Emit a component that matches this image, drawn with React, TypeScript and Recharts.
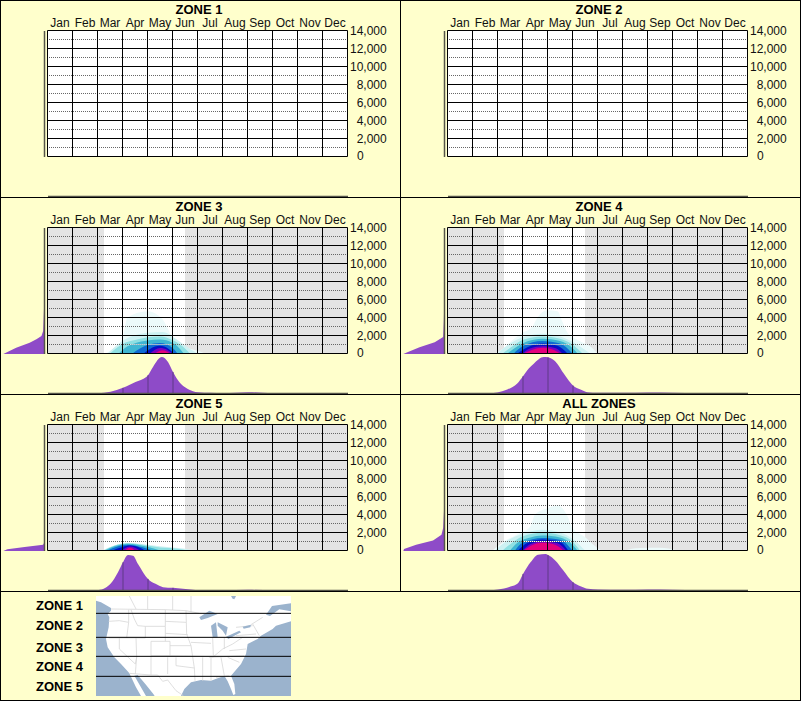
import React from 'react';
import {
  ComposedChart,
  Area,
  XAxis,
  YAxis,
  ReferenceArea,
  ReferenceLine,
} from 'recharts';

const monthNames = ['Jan', 'Feb', 'Mar', 'Apr', 'May', 'Jun', 'Jul', 'Aug', 'Sep', 'Oct', 'Nov', 'Dec'];
const monthCentres = [0.5, 1.5, 2.5, 3.5, 4.5, 5.5, 6.5, 7.5, 8.5, 9.5, 10.5, 11.5];
const monthEdges = [0, 1, 2, 3, 4, 5, 6, 7, 8, 9, 10, 11, 12];
const elevationTicks = [0, 2000, 4000, 6000, 8000, 10000, 12000, 14000];
const dottedLevels = [1000, 3000, 5000, 7000, 9000, 11000, 13000];

// growing season window, in months from Jan 1
const seasonStart = 2.26;
const seasonEnd = 5.5;

// heat bands run from the palest to the hottest, each is [month, elevation]
const heatColors = ['#ecfafa', '#cdf1f2', '#8fe0e2', '#3fb6d2', '#0f6ad2', '#0410c4', '#7a00bc', '#e4007c'];

const emptyHeat = [[[0, 0], [12, 0]]];

const zone3Heat = [
  [[2.3, 0], [3, 1600], [3.2, 4000], [4, 4700], [4.6, 3800], [5, 1800], [5.4, 900], [6, 300], [6.3, 0]],
  [[2.4, 0], [3, 1400], [4, 2300], [4.6, 2400], [5.2, 1500], [5.7, 500], [6, 0]],
  [[2.5, 0], [3, 1050], [3.5, 1500], [4, 1800], [4.5, 1900], [5, 1500], [5.4, 800], [5.7, 0]],
  [[2.85, 0], [3.2, 800], [3.5, 1150], [4, 1450], [4.5, 1550], [5, 1200], [5.3, 500], [5.45, 0]],
  [[3.4, 0], [3.7, 550], [4, 950], [4.5, 1180], [5, 650], [5.2, 0]],
  [[3.85, 0], [4.1, 500], [4.5, 850], [4.85, 500], [5.05, 0]],
  [[4.1, 0], [4.5, 600], [4.8, 400], [5, 0]],
  [[4.3, 0], [4.6, 350], [4.9, 0]],
];

const zone4Heat = [
  [[1.9, 0], [2.2, 500], [2.6, 1500], [3, 2300], [3.4, 3000], [3.6, 4000], [4, 4800], [4.4, 4700], [4.6, 3500], [4.8, 2300], [5.2, 1500], [5.7, 800], [6, 0]],
  [[2, 0], [2.5, 1100], [3, 1800], [3.8, 2200], [4.5, 1900], [5, 1300], [5.7, 0]],
  [[2.2, 0], [2.6, 800], [3, 1500], [3.8, 1900], [4.5, 1650], [5, 1000], [5.4, 0]],
  [[2.4, 0], [2.8, 800], [3.2, 1350], [3.8, 1650], [4.5, 1400], [5, 600], [5.2, 0]],
  [[2.65, 0], [3, 800], [3.8, 1400], [4.5, 1100], [5, 0]],
  [[2.8, 0], [3.2, 700], [3.8, 1100], [4.4, 850], [4.8, 0]],
  [[3, 0], [3.3, 550], [3.8, 800], [4.3, 600], [4.6, 0]],
  [[3.05, 0], [3.4, 430], [3.8, 640], [4.2, 450], [4.5, 0]],
];

const zone5Heat = [
  [[2.2, 0], [2.6, 500], [3.2, 850], [4, 650], [5, 320], [5.5, 200], [5.85, 0]],
  [[2.25, 0], [2.7, 550], [3.2, 800], [4, 550], [4.5, 340], [5.2, 200], [5.6, 0]],
  [[2.3, 0], [2.7, 500], [3.2, 760], [4, 420], [4.5, 0]],
  [[2.4, 0], [2.8, 450], [3.2, 650], [3.8, 350], [4.2, 0]],
  [[2.6, 0], [3, 400], [3.3, 550], [3.7, 300], [3.9, 0]],
  [[2.97, 0], [3.3, 440], [3.7, 0]],
  [[3.1, 0], [3.3, 300], [3.5, 0]],
];

const allZonesHeat = [
  [[1.8, 0], [2.2, 900], [2.8, 1800], [3.3, 2600], [3.5, 4000], [4, 4700], [4.4, 5000], [4.8, 3800], [5, 2500], [5.5, 1500], [5.9, 500], [6.2, 0], [7, 0], [7.5, 250], [8.5, 300], [9.2, 0]],
  [[1.9, 0], [2.4, 1100], [3, 1850], [3.8, 2300], [4.5, 2000], [5, 1300], [5.5, 0]],
  [[2.2, 0], [2.6, 900], [3, 1550], [3.8, 1960], [4.5, 1700], [5, 1000], [5.3, 0]],
  [[2.5, 0], [2.8, 850], [3.2, 1350], [3.8, 1670], [4.5, 1450], [5, 650], [5.2, 0]],
  [[2.7, 0], [3, 850], [3.8, 1400], [4.5, 1200], [5, 0]],
  [[2.83, 0], [3.2, 850], [3.8, 1220], [4.5, 950], [4.83, 0]],
  [[3, 0], [3.3, 700], [3.8, 1030], [4.4, 800], [4.74, 0]],
  [[3.06, 0], [3.4, 600], [3.8, 850], [4.3, 650], [4.63, 0]],
];

// marginal of the heat map along the months, [month, density]
const emptyMonths = [[0, 0], [12, 0]];
const zone3Months = [[2, 1], [2.5, 5], [3, 17], [3.5, 35], [3.93, 50], [4, 55], [4.2, 80], [4.55, 110], [4.8, 95], [5, 65], [5.25, 35], [5.5, 18], [5.8, 7], [6, 4], [6.5, 2], [7, 1], [7.5, 2], [8, 4], [8.6, 2], [9, 1], [10, 0]];
const zone4Months = [[1.5, 0], [1.97, 3], [2.37, 12], [2.77, 30], [3, 52], [3.23, 75], [3.43, 90], [3.83, 110], [4, 109], [4.37, 90], [4.63, 60], [4.77, 45], [5, 24], [5.3, 12], [5.57, 4], [6, 2], [7, 2], [8, 3], [9, 2], [10, 0]];
const zone5Months = [[1.5, 0], [2, 1], [2.3, 8], [2.5, 20], [2.8, 55], [3, 85], [3.2, 107], [3.4, 105], [3.6, 80], [4, 35], [4.3, 20], [4.6, 10], [5, 8], [5.4, 5], [6, 1], [7, 0], [8, 2], [9, 1], [10, 0]];
const allZonesMonths = [[1.5, 0], [2, 3], [2.5, 12], [2.8, 22], [3, 50], [3.3, 85], [3.6, 108], [3.9, 110], [4, 107], [4.3, 90], [4.6, 62], [5, 25], [5.3, 13], [5.6, 5], [6, 3], [7, 2], [8, 3], [9, 2], [10, 0]];

// marginal of the heat map along elevation, [elevation, density]
const emptyLevels = [[0, 0], [14000, 0]];
const zone3Levels = [[0, 122], [700, 84], [1260, 44], [1630, 24], [2000, 9], [2550, 4], [4000, 2.5], [5500, 1], [7000, 0]];
const zone4Levels = [[0, 122], [200, 110], [740, 74], [1300, 29], [1900, 4], [3700, 2], [5200, 1], [7000, 0]];
const zone5Levels = [[0, 122], [190, 110], [440, 59], [700, 4], [1000, 0]];
const allZonesLevels = [[0, 122], [220, 120], [700, 84], [1180, 34], [1800, 9], [2550, 4], [4800, 1], [7000, 0]];

const mapLegend = ['ZONE 1', 'ZONE 2', 'ZONE 3', 'ZONE 4', 'ZONE 5'];

const FONT = '"Liberation Sans", Arial, sans-serif';
const BG = '#ffffcc';
const PURPLE = '#8e4bc8';
const BASE_LINE = '#55554a';

const toPoints = (pairs: number[][]) => pairs.map(([month, value]) => ({ month, value }));
const monthTable = monthCentres.map(month => ({ month }));

const MonthTick = (props: any) => {
  const { x, payload } = props;
  return (
    <text x={x} y={27} textAnchor="middle" fontFamily={FONT} fontSize={12} fill="#111">
      {monthNames[monthCentres.indexOf(payload.value)]}
    </text>
  );
};

const ElevationTick = (props: any) => {
  const { y, payload } = props;
  const v = payload.value;
  if (v === 0) {
    return <text x={357} y={y + 3.5} fontFamily={FONT} fontSize={12} fill="#111">0</text>;
  }
  return (
    <text x={386.7} y={y + 4} textAnchor="end" fontFamily={FONT} fontSize={12} fill="#111">
      {v.toLocaleString('en-US')}
    </text>
  );
};

interface PanelProps {
  title: string;
  left: number;
  top: number;
  height: number;
  heat?: number[][][];
  months?: number[][];
  levels?: number[][];
  whiteDots?: number[];
}

const Panel: React.FC<PanelProps> = ({ title, left, top, height, heat = emptyHeat, months = emptyMonths, levels = emptyLevels, whiteDots }) => {
  const plotBottom = height - 40.5;
  const sideData = levels.map(([level, density]) => ({ level, density }));
  const hasData = heat !== emptyHeat;

  return (
    <div style={{ position: 'absolute', left, top, width: 400, height }}>
      <div style={{ position: 'absolute', left: 0, top: 2, width: 398, textAlign: 'center', font: `bold 13px ${FONT}`, color: '#000' }}>
        {title}
      </div>

      {/* heat map with its month and elevation axes */}
      <div style={{ position: 'absolute', left: 0, top: 0 }}>
        <ComposedChart width={400} height={height} data={monthTable} margin={{ top: 29.5, right: 51.5, bottom: 40.5, left: 47.5 }}>
          <XAxis type="number" dataKey="month" orientation="top" domain={[0, 12]} ticks={monthCentres} tick={<MonthTick />} height={1} axisLine={false} tickLine={false} interval={0} allowDataOverflow />
          <YAxis type="number" orientation="right" domain={[0, 14000]} ticks={elevationTicks} tick={<ElevationTick />} width={1} axisLine={false} tickLine={false} interval={0} />
          <ReferenceArea x1={0} x2={12} y1={0} y2={14000} fill="#fff" fillOpacity={1} stroke="none" />
          {hasData && <ReferenceArea x1={0} x2={seasonStart} y1={0} y2={14000} fill="#e4e4e4" fillOpacity={1} stroke="none" />}
          {hasData && <ReferenceArea x1={seasonEnd} x2={12} y1={0} y2={14000} fill="#e4e4e4" fillOpacity={1} stroke="none" />}
          {heat.map((band, i) => (
            <Area
              key={i}
              data={toPoints(band)}
              dataKey="value"
              type="monotone"
              fill={heatColors[heatColors.length - heat.length + i]}
              fillOpacity={1}
              stroke="none"
              isAnimationActive={false}
              dot={false}
              activeDot={false}
            />
          ))}
          {dottedLevels.map(l => (
            <ReferenceLine key={l} y={l} stroke="#666" strokeDasharray="1 1" strokeDashoffset={0.5} />
          ))}
          {whiteDots && (
            <ReferenceLine
              segment={[{ x: whiteDots[0], y: 1000 }, { x: whiteDots[1], y: 1000 }]}
              stroke="#fff"
              strokeDasharray="1 1"
              strokeDashoffset={0.5}
            />
          )}
          {elevationTicks.map(l => (
            <ReferenceLine key={l} y={l} stroke="#000" />
          ))}
          {monthEdges.map(m => (
            <ReferenceLine key={m} x={m} stroke="#000" />
          ))}
        </ComposedChart>
      </div>

      {/* elevation marginal, left of the plot */}
      <div style={{ position: 'absolute', left: 3, top: 30.5 }}>
        <ComposedChart width={43} height={126} layout="vertical" data={sideData} margin={{ top: 0, right: 1.5, bottom: 0, left: 0 }}>
          <XAxis type="number" domain={[0, 123]} reversed hide />
          <YAxis type="number" dataKey="level" orientation="right" domain={[0, 14000]} reversed hide />
          <Area dataKey="density" type="linear" fill={PURPLE} fillOpacity={1} stroke="none" isAnimationActive={false} dot={false} activeDot={false} />
          <ReferenceLine x={0} stroke={BASE_LINE} strokeWidth={1.5} />
        </ComposedChart>
      </div>

      {/* month marginal, under the plot */}
      <div style={{ position: 'absolute', left: 47.5, top: plotBottom + 3.5 }}>
        <ComposedChart width={300} height={37.5} data={toPoints(months)} margin={{ top: 0, right: 0, bottom: 1, left: 0 }}>
          <XAxis type="number" dataKey="month" domain={[0, 12]} hide allowDataOverflow />
          <YAxis type="number" domain={[0, 110]} hide />
          <Area dataKey="value" type="monotone" fill={PURPLE} fillOpacity={1} stroke="none" isAnimationActive={false} dot={false} activeDot={false} />
          {months.filter(([m, v]) => Number.isInteger(m) && v > 5).map(([m, v]) => (
            <ReferenceLine key={m} segment={[{ x: m, y: 0 }, { x: m, y: v }]} stroke="#5e3a86" />
          ))}
          <ReferenceLine y={0} stroke={BASE_LINE} strokeWidth={1.5} />
        </ComposedChart>
      </div>
    </div>
  );
};

const landOutline = '0,6 0,20 15,25 45,42 45,50 35,60 40,70 38,100 30,135 35,160 55,190 75,210 95,232 100,238 120,280 135,306 150,306 128,268 115,245 125,243 148,270 172,300 176,306 255,306 265,285 285,265 315,258 345,260 385,245 395,262 405,285 412,303 418,300 415,270 405,245 435,210 450,180 455,150 485,135 495,125 530,105 540,95 585,82 585,6';
const lakes = [
  '310,70 340,50 365,60 335,72 315,78',
  '345,95 360,85 365,130 350,130',
  '365,85 395,100 390,125 380,110 365,95',
  '390,128 430,110 435,115 397,135',
  '440,98 465,92 463,100 443,104',
  '405,6 420,6 415,16 410,14',
  '510,62 528,36 585,28 585,52 550,46 522,66',
];
const stateLines = [
  '45,45 208,47 270,50 310,58',
  '38,82 70,80 98,85',
  '98,47 98,85 92,132',
  '38,132 120,132',
  '70,132 70,165 118,210 122,190 120,132',
  '120,132 148,132 148,97 208,97 208,142',
  '105,47 115,75 125,95 148,97',
  '165,142 222,142 222,185 165,185 165,142',
  '122,187 118,240',
  '165,185 165,243',
  '100,238 165,243 185,243 200,262 215,258 240,290 262,305',
  '215,190 215,240',
  '240,190 240,215 295,222',
  '208,82 270,85',
  '208,118 275,122',
  '222,155 285,155',
  '222,185 350,188',
  '208,47 208,97',
  '270,50 272,120 285,155 295,222 297,260',
  '285,145 345,148',
  '340,190 445,185',
  '400,170 450,165',
  '350,190 380,165 410,150 440,130',
  '350,130 352,185',
  '385,130 385,165',
  '420,125 480,120',
  '420,100 470,95',
  '470,90 490,125',
  '320,190 320,260',
  '345,190 345,260',
  '375,190 385,245',
  '360,250 400,245',
  '395,190 430,205',
  '465,92 500,70',
  '100,6 120,45',
  '155,6 155,46',
  '230,6 230,48',
  '285,6 285,55',
];
const mapDividers = [58, 130, 187, 247];
const mapLegendTops = [598, 618, 640, 659, 679];

const ZoneMap = () => (
  <svg
    style={{ position: 'absolute', left: 96, top: 596 }}
    width={195}
    height={100}
    viewBox="0 6 585 300"
  >
    <rect x={0} y={6} width={585} height={300} fill="#9bb3cd" />
    <polygon points={landOutline} fill="#fff" />
    {stateLines.map((p, i) => (
      <polyline key={i} points={p} fill="none" stroke="#d8d8d8" strokeWidth={2.5} />
    ))}
    {lakes.map((p, i) => (
      <polygon key={i} points={p} fill="#9bb3cd" />
    ))}
    {mapDividers.map(y => (
      <line key={y} x1={0} x2={585} y1={y} y2={y} stroke="#000" strokeWidth={3} />
    ))}
  </svg>
);

const App = () => (
  <div style={{ position: 'absolute', left: 0, top: 0, width: 801, height: 701, background: BG, overflow: 'hidden' }}>
    <Panel title="ZONE 1" left={0} top={0} height={197} />
    <Panel title="ZONE 2" left={400} top={0} height={197} />
    <Panel title="ZONE 3" left={0} top={197} height={197} heat={zone3Heat} months={zone3Months} levels={zone3Levels} whiteDots={[3.3, 5]} />
    <Panel title="ZONE 4" left={400} top={197} height={197} heat={zone4Heat} months={zone4Months} levels={zone4Levels} whiteDots={[3.1, 4.9]} />
    <Panel title="ZONE 5" left={0} top={394} height={197} heat={zone5Heat} months={zone5Months} levels={zone5Levels} />
    <Panel title="ALL ZONES" left={400} top={394} height={197} heat={allZonesHeat} months={allZonesMonths} levels={allZonesLevels} whiteDots={[3, 5]} />

    {mapLegend.map((name, i) => (
      <div key={name} style={{ position: 'absolute', left: 36, top: mapLegendTops[i], font: `bold 13px ${FONT}`, color: '#000' }}>
        {name}
      </div>
    ))}
    <ZoneMap />

    {/* panel frame */}
    <div style={{ position: 'absolute', left: 0, top: 0, width: 1, height: 701, background: '#000' }} />
    <div style={{ position: 'absolute', left: 800, top: 0, width: 1, height: 701, background: '#000' }} />
    <div style={{ position: 'absolute', left: 400, top: 0, width: 1, height: 591, background: '#000' }} />
    <div style={{ position: 'absolute', left: 0, top: 0, width: 801, height: 1, background: '#000' }} />
    <div style={{ position: 'absolute', left: 0, top: 197, width: 801, height: 1, background: '#000' }} />
    <div style={{ position: 'absolute', left: 0, top: 394, width: 801, height: 1, background: '#000' }} />
    <div style={{ position: 'absolute', left: 0, top: 591, width: 801, height: 1, background: '#000' }} />
    <div style={{ position: 'absolute', left: 0, top: 700, width: 801, height: 1, background: '#000' }} />
  </div>
);

export default App;
